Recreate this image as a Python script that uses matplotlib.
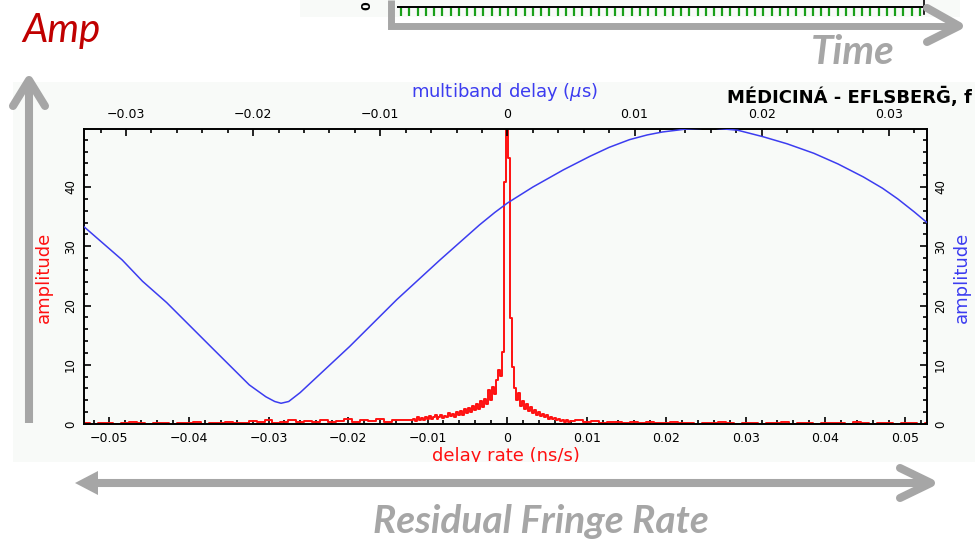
import numpy as np
import matplotlib
matplotlib.use('Agg')
import matplotlib.pyplot as plt
from matplotlib.ticker import MultipleLocator, FuncFormatter
from matplotlib.patches import Rectangle, Polygon

# Figure size in pixels; annotation layers are laid out in pixel units
W, H = 975, 544

# Blue curve: amplitude vs multiband delay (us)
mbd_delay = [-0.0333, -0.0318, -0.0303, -0.0287, -0.0268, -0.0233, -0.0203,
             -0.0190, -0.0183, -0.0178, -0.0172, -0.0163, -0.0124, -0.0087,
             -0.0053, -0.0022, -0.0010, 0.0, 0.0020, 0.0044, 0.0065, 0.0080,
             0.0096, 0.0110, 0.0122, 0.0141, 0.0160, 0.0181, 0.0201, 0.0220,
             0.0241, 0.0260, 0.0280, 0.0295, 0.0307, 0.0320, 0.0330]
mbd_amp = [33.3, 30.5, 27.7, 24.1, 20.5, 13.0, 6.6,
           4.6, 3.8, 3.5, 3.8, 5.3, 13.1, 21.0,
           27.7, 33.6, 35.7, 37.3, 40.0, 42.9, 45.2, 46.7,
           48.0, 48.8, 49.3, 49.8, 50.0, 49.6, 48.5, 47.3,
           45.7, 43.9, 41.7, 39.8, 38.0, 35.8, 34.0]

# Red curve: amplitude vs delay rate (ns/s)
# outer left part, -0.053 .. -0.013 every 0.001
rate_amp_left = [0.1, 0.0, 0.2, 0.1, 0.0, 0.1, 0.3, 0.1, 0.0, 0.2,
                 0.1, 0.0, 0.2, 0.1, 0.3, 0.0, 0.1, 0.2, 0.4, 0.1,
                 0.2, 0.5, 0.3, 0.6, 0.2, 0.4, 0.7, 0.3, 0.5, 0.4,
                 0.6, 0.3, 0.5, 0.8, 0.4, 0.6, 0.5, 0.9, 0.4, 0.7, 0.6]
# central part, -0.012 .. 0.008 every 0.00025
rate_amp_mid = [0.6, 0.9, 0.5, 1.1, 0.7, 1.0, 0.6, 1.2, 0.8, 1.3,
                0.9, 1.1, 1.5, 0.8, 1.2, 1.6, 1.0, 1.4, 1.1, 1.8,
                1.3, 1.7, 1.2, 2.0, 1.5, 2.2, 1.6, 2.5, 1.8, 2.7,
                2.1, 3.0, 2.3, 3.3, 2.6, 3.8, 2.9, 4.2, 3.4, 5.7,
                4.1, 6.3, 5.0, 7.4, 9.2, 8.1, 12.2, 40.8, 49.9, 44.9,
                17.9, 9.6, 6.0, 4.0, 5.2, 3.1, 3.8, 2.6, 3.3, 2.2,
                2.8, 1.9, 2.4, 1.6, 2.0, 1.3, 1.7, 1.1, 1.5, 0.9,
                1.2, 0.8, 1.0, 0.6, 0.9, 0.5, 0.7, 0.4, 0.6, 0.3, 0.5]
# outer right part, 0.009 .. 0.053 every 0.001
rate_amp_right = [0.6, 0.3, 0.5, 0.2, 0.4, 0.3, 0.1, 0.3, 0.2, 0.4,
                  0.1, 0.2, 0.3, 0.1, 0.2, 0.0, 0.2, 0.1, 0.3, 0.1,
                  0.0, 0.2, 0.1, 0.0, 0.2, 0.1, 0.3, 0.0, 0.1, 0.2,
                  0.0, 0.1, 0.2, 0.1, 0.0, 0.3, 0.1, 0.0, 0.2, 0.1,
                  0.0, 0.1, 0.2, 0.0, 0.1]

rate = np.concatenate([np.linspace(-0.053, -0.013, len(rate_amp_left)),
                       np.linspace(-0.012, 0.008, len(rate_amp_mid)),
                       np.linspace(0.009, 0.053, len(rate_amp_right))])
rate_amp = np.array(rate_amp_left + rate_amp_mid + rate_amp_right)

# accumulation periods shown in the strip at the top
ap_index = np.arange(64)

GRAY = '#a6a6a6'
PANEL = '#f8faf8'
RED = '#ff1010'
BLUE = '#3c3cf0'


def fx(x):
    return x / W


def fy(y):
    return 1 - y / H


def tick_fmt(v, pos):
    if abs(v) < 1e-9:
        return '0'
    return f'{v:g}'.replace('-', '\u2212')


fig = plt.figure(figsize=(W / 100, H / 100), dpi=100)

# background layer
back = fig.add_axes([0, 0, 1, 1], zorder=-1)
back.set_xlim(0, W)
back.set_ylim(H, 0)
back.axis('off')
back.add_patch(Rectangle((13, 82), W - 13, 380, color=PANEL, lw=0))
back.add_patch(Rectangle((300, 0), 660, 17, color=PANEL, lw=0))

rect = [fx(84), fy(424), (927 - 84) / W, (424 - 129) / H]

# delay rate spectrum
ax = fig.add_axes(rect, zorder=1)
ax.set_facecolor('none')
ax.plot(rate, rate_amp, drawstyle='steps-mid', color=RED, lw=1.4)
ax.set_xlim(-0.0532, 0.0528)
ax.set_ylim(0, 49.8)
ax.xaxis.set_major_locator(MultipleLocator(0.01))
ax.xaxis.set_minor_locator(MultipleLocator(0.002))
ax.yaxis.set_major_locator(MultipleLocator(10))
ax.yaxis.set_minor_locator(MultipleLocator(2))
ax.xaxis.set_major_formatter(FuncFormatter(tick_fmt))
ax.yaxis.set_major_formatter(FuncFormatter(tick_fmt))
ax.tick_params(which='both', direction='in', top=False, right=False, width=1.2)
ax.tick_params(which='major', length=5)
ax.tick_params(which='minor', length=3)
ax.tick_params(axis='x', labelsize=9, pad=6)
ax.tick_params(axis='y', labelsize=8.5, labelrotation=90, pad=5)
for lbl in ax.get_yticklabels():
    lbl.set_va('center')
for s in ax.spines.values():
    s.set_linewidth(1.4)

# multiband delay function
ax2 = fig.add_axes(rect, zorder=2)
ax2.set_facecolor('none')
ax2.plot(mbd_delay, mbd_amp, color=BLUE, lw=1.1)
ax2.set_xlim(-0.0333, 0.0330)
ax2.set_ylim(0, 49.8)
ax2.xaxis.tick_top()
ax2.yaxis.tick_right()
ax2.xaxis.set_major_locator(MultipleLocator(0.01))
ax2.xaxis.set_minor_locator(MultipleLocator(0.002))
ax2.yaxis.set_major_locator(MultipleLocator(10))
ax2.yaxis.set_minor_locator(MultipleLocator(2))
ax2.xaxis.set_major_formatter(FuncFormatter(tick_fmt))
ax2.yaxis.set_major_formatter(FuncFormatter(tick_fmt))
ax2.tick_params(which='both', direction='in', bottom=False, left=False, width=1.2)
ax2.tick_params(which='major', length=5)
ax2.tick_params(which='minor', length=3)
ax2.tick_params(axis='x', labelsize=9, pad=6)
ax2.tick_params(axis='y', labelsize=8.5, labelrotation=90, pad=5)
for lbl in ax2.get_yticklabels():
    lbl.set_va('center')
for s in ax2.spines.values():
    s.set_visible(False)

# axis titles
fig.text(fx(505), fy(92), 'multiband delay ($\\mu$s)', color=BLUE,
         fontsize=13, ha='center', va='center')
fig.text(fx(44), fy(277), 'amplitude', color=RED, fontsize=13,
         rotation=90, ha='center', va='center')
fig.text(fx(962), fy(277), 'amplitude', color=BLUE, fontsize=13,
         rotation=90, ha='center', va='center')
fig.text(fx(506), fy(456), 'delay rate (ns/s)', color=RED, fontsize=13,
         ha='center', va='center')
fig.text(fx(727), fy(97), 'M\u00c9DICIN\u00c1 - EFLSBER\u1e20, f', color='black',
         fontsize=13, fontweight='bold', ha='left', va='center')

# strip of the time plot above
strip = fig.add_axes([fx(397), fy(17), (924 - 397) / W, 17 / H], zorder=1)
strip.set_facecolor('none')
strip.plot(ap_index, np.zeros(len(ap_index)), ls='none', marker='|',
           ms=6, mew=1.6, color='#1aa01a')
strip.axhline(1, color='black', lw=1.4)
strip.set_xlim(-0.5, len(ap_index) - 0.5)
strip.set_ylim(-1, 2.4)
strip.axis('off')
fig.text(fx(367), fy(6), '0', fontsize=9, fontweight='bold', rotation=90,
         ha='center', va='center')

# front layer: arrows and annotations
front = fig.add_axes([0, 0, 1, 1], zorder=5)
front.set_xlim(0, W)
front.set_ylim(H, 0)
front.axis('off')
front.add_patch(Rectangle((0, 462), W, 10, color='white', lw=0))
front.plot([924, 924], [0, 14], color='black', lw=1.2)

lw = 5.8
# amplitude arrow
front.plot([29, 29], [423, 84], color=GRAY, lw=lw, solid_capstyle='butt')
front.plot([13, 29, 45], [106, 80, 106], color=GRAY, lw=lw,
           solid_capstyle='round', solid_joinstyle='round')
# time arrow
front.plot([391, 391, 955], [0, 26, 26], color=GRAY, lw=5,
           solid_capstyle='butt', solid_joinstyle='miter')
front.plot([927, 959, 927], [8, 26, 42], color=GRAY, lw=lw,
           solid_capstyle='round', solid_joinstyle='round')
# fringe rate double arrow
front.plot([96, 928], [483, 483], color=GRAY, lw=lw, solid_capstyle='butt')
front.add_patch(Polygon([(75, 483), (98, 471), (98, 495)], closed=True,
                        color=GRAY, lw=0))
front.plot([900, 931, 900], [468, 483, 498], color=GRAY, lw=lw,
           solid_capstyle='round', solid_joinstyle='round')

fig.text(fx(22), fy(42), 'Amp', color='#c00000', fontsize=29,
         family='Lato', style='italic', ha='left', va='baseline')
fig.text(fx(853), fy(64), 'Time', color=GRAY, fontsize=29,
         family='Lato', style='italic', fontweight='bold',
         ha='center', va='baseline')
fig.text(fx(541), fy(533), 'Residual Fringe Rate', color=GRAY, fontsize=28,
         family='Lato', style='italic', fontweight='bold',
         ha='center', va='baseline')

fig.savefig('out.png', dpi=100)
